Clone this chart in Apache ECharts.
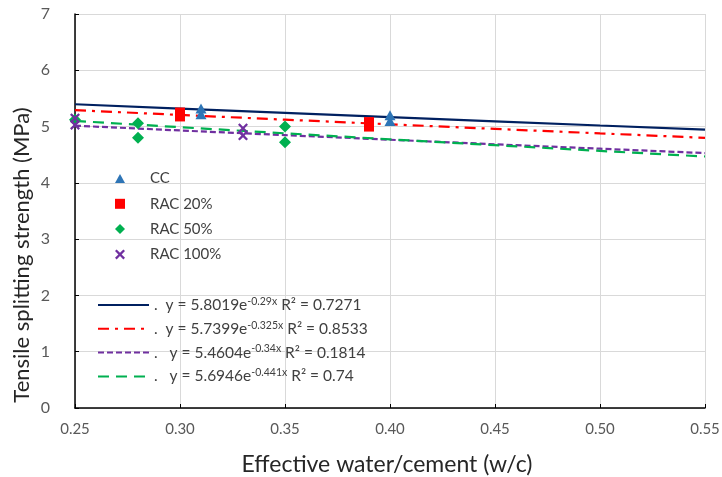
<!DOCTYPE html>
<html>
<head>
<meta charset="utf-8">
<script src="https://cdn.jsdelivr.net/npm/echarts@6/dist/echarts.min.js"></script>
<style>
  html, body { margin: 0; padding: 0; background: #ffffff; }
  #chart { width: 722px; height: 477px; }
</style>
</head>
<body>
<div id="chart"></div>
<script>
// Tick positions of the w/c axis (also used to trace the fitted curves)
const xTicks = [0.25, 0.30, 0.35, 0.40, 0.45, 0.50, 0.55];

// Measured tensile splitting strength (MPa) per mix
const ccX = [0.31, 0.31, 0.40, 0.40];
const ccY = [5.32, 5.22, 5.20, 5.10];
const rac20X = [0.30, 0.30, 0.39, 0.39];
const rac20Y = [5.25, 5.18, 5.08, 5.00];
const rac50X = [0.25, 0.28, 0.28, 0.35, 0.35];
const rac50Y = [5.12, 5.06, 4.80, 5.00, 4.72];
const rac100X = [0.25, 0.25, 0.33, 0.33];
const rac100Y = [5.15, 5.03, 4.97, 4.84];
const mixNames = ['CC', 'RAC 20%', 'RAC 50%', 'RAC 100%'];

// Exponential fits y = a·e^(b·x), in legend order: CC, RAC 20%, RAC 100%, RAC 50%
const fitNames = ['fitCC', 'fit20', 'fit100', 'fit50'];
const fitA = [5.8019, 5.7399, 5.4604, 5.6946];
const fitB = [-0.29, -0.325, -0.34, -0.441];
const fitAText = ['5.8019', '5.7399', '5.4604', '5.6946'];
const fitBText = ['-0.29x', '-0.325x', '-0.34x', '-0.441x'];
const fitR2 = ['0.7271', '0.8533', '0.1814', '0.74'];

const yTitle = 'Tensile splitting strength (MPa)';
const xTitle = 'Effective water/cement (w/c)';

const FONT = 'Lato, "Liberation Sans", sans-serif';

const pairs = (xs, ys) => xs.map((x, i) => [x, ys[i]]);
const fitCurve = k => xTicks.map(x => [x, fitA[k] * Math.exp(fitB[k] * x)]);

const xMark = 'path://M0,1.6 L1.6,0 L5,3.4 L8.4,0 L10,1.6 L6.6,5 L10,8.4 L8.4,10 L5,6.6 L1.6,10 L0,8.4 L3.4,5 Z';
const triMark = 'path://M5,0 L10,9 L0,9 Z';
const sqMark = 'path://M0,0 L10,0 L10,10 L0,10 Z';
const diaMark = 'path://M5,0 L10,5 L5,10 L0,5 Z';

const markColors = ['#2e75b6', '#ff0000', '#00b050', '#7030a0'];
const markSymbols = [triMark, sqMark, diaMark, xMark];
const markSizes = [[11, 10], [10, 10], [12, 12], [10, 10]];
const markData = [pairs(ccX, ccY), pairs(rac20X, rac20Y), pairs(rac50X, rac50Y), pairs(rac100X, rac100Y)];

const fitColors = ['#002060', '#ff0000', '#7030a0', '#00b050'];
const fitDash = ['solid', [11, 6, 3, 6], [6, 3], [11, 7]];

const series = [];
fitNames.forEach((name, k) => {
  series.push({
    name: name,
    type: 'line',
    data: fitCurve(k),
    showSymbol: false,
    symbol: 'none',
    silent: true,
    z: 2,
    lineStyle: { color: fitColors[k], width: 2.2, type: fitDash[k] },
    itemStyle: { color: fitColors[k] }
  });
});
mixNames.forEach((name, k) => {
  series.push({
    name: name,
    type: 'scatter',
    data: markData[k],
    symbol: markSymbols[k],
    symbolSize: markSizes[k],
    z: 4,
    itemStyle: { color: markColors[k], opacity: 1 }
  });
});

const eqText = name => {
  const k = fitNames.indexOf(name);
  const lead = k < 2 ? '.  ' : '.   ';
  return '{t|' + lead + 'y = ' + fitAText[k] + 'e}{s|' + fitBText[k] + '}{t| R\u00b2 = ' + fitR2[k] + '}';
};

const option = {
  backgroundColor: '#ffffff',
  animation: false,
  textStyle: { fontFamily: FONT },
  grid: { left: 75, right: 17, top: 14, bottom: 69, containLabel: false, outerBoundsMode: 'none' },
  // Vertical axis title, set below the middle of the axis
  graphic: [
    {
      type: 'text',
      x: 22,
      y: 255,
      rotation: Math.PI / 2,
      silent: true,
      style: {
        text: yTitle,
        fontFamily: FONT,
        fontSize: 22,
        fill: '#262626',
        align: 'center',
        verticalAlign: 'middle'
      }
    }
  ],
  xAxis: {
    type: 'value',
    min: 0.25,
    max: 0.55,
    interval: 0.05,
    name: xTitle,
    nameLocation: 'middle',
    nameGap: 45,
    nameTextStyle: { fontFamily: FONT, fontSize: 23, color: '#262626', padding: [0, 6, 0, 0] },
    axisLine: { show: true, onZero: false, lineStyle: { color: '#000000', width: 1.5 } },
    axisTick: { show: true, inside: true, length: 4, lineStyle: { color: '#000000' } },
    axisLabel: { fontFamily: FONT, fontSize: 15, color: '#595959', margin: 14, formatter: v => v.toFixed(2) },
    splitLine: { show: true, lineStyle: { color: '#d9d9d9', width: 1 } }
  },
  yAxis: {
    type: 'value',
    min: 0,
    max: 7,
    interval: 1,
    axisLine: { show: true, lineStyle: { color: '#000000', width: 1.5 } },
    axisTick: { show: true, inside: true, length: 4, lineStyle: { color: '#000000' } },
    axisLabel: { fontFamily: FONT, fontSize: 16, color: '#595959', margin: 25 },
    splitLine: { show: true, lineStyle: { color: '#d9d9d9', width: 1 } }
  },
  legend: [
    {
      orient: 'vertical',
      left: 115,
      top: 171,
      padding: 0,
      itemWidth: 10,
      itemHeight: 10,
      itemGap: 10.3,
      selectedMode: false,
      data: mixNames.map((n, k) => ({ name: n, icon: markSymbols[k] })),
      formatter: name => '{g|}{t|' + name + '}',
      textStyle: {
        fontFamily: FONT,
        rich: {
          g: { width: 20, height: 18 },
          t: { fontFamily: FONT, fontSize: 15, color: '#404040', lineHeight: 18 }
        }
      }
    },
    {
      orient: 'vertical',
      left: 97,
      top: 296,
      padding: 0,
      itemWidth: 51,
      itemHeight: 14,
      itemGap: 6.8,
      selectedMode: false,
      itemStyle: { opacity: 0 },
      data: fitNames,
      formatter: eqText,
      textStyle: {
        fontFamily: FONT,
        color: '#404040',
        rich: {
          t: { fontFamily: FONT, fontSize: 15.5, color: '#404040', lineHeight: 18 },
          s: { fontFamily: FONT, fontSize: 10.5, color: '#404040', lineHeight: 10, verticalAlign: 'top' }
        }
      }
    }
  ],
  series: series
};

const chart = echarts.init(document.getElementById('chart'), null, { renderer: 'canvas' });
chart.setOption(option);
</script>
</body>
</html>
